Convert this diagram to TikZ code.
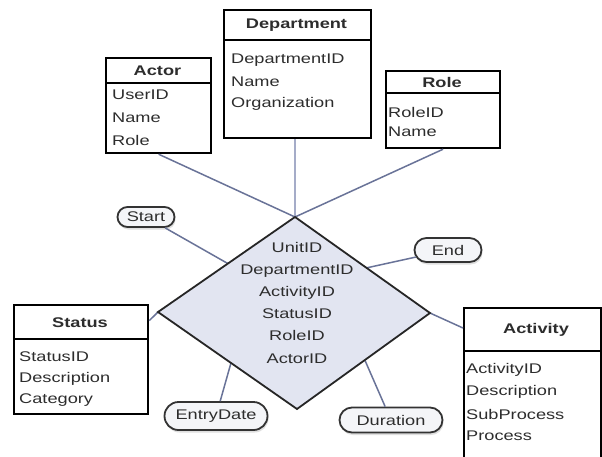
\documentclass[tikz,border=0pt]{standalone}
\usepackage{fontspec}
\newfontfamily\erf[FakeStretch=1.3]{Liberation Sans}
\usetikzlibrary{calc,shapes.misc,shadows}
\definecolor{connc}{RGB}{105,115,152}
\definecolor{deptc}{RGB}{165,172,200}
\definecolor{dfill}{RGB}{226,229,241}
\definecolor{txt}{RGB}{45,45,45}
\definecolor{lblfill}{RGB}{244,245,248}
\begin{document}
\begin{tikzpicture}[x=1pt,y=-1pt,
  every node/.style={font=\erf\fontsize{14}{16}\selectfont, text=txt, inner sep=0pt},
  entity/.style={draw=black, line width=2.2pt, fill=white, anchor=north west, inner sep=0pt},
  hdr/.style={font=\erf\bfseries\fontsize{14}{16}\selectfont},
  item/.style={anchor=west},
  hline/.style={draw=black, line width=2pt},
  connline/.style={draw=connc, line width=1.5pt},
  lbl/.style={rounded rectangle, draw=black!80, line width=1.8pt, fill=lblfill, inner sep=0pt,
    drop shadow={opacity=0.25, shadow xshift=1pt, shadow yshift=-2.5pt}},
  diam/.style={draw=black!85, line width=1.8pt, fill=dfill, line join=miter},
]
\useasboundingbox (0,0) rectangle (602,456);
\clip (0,0) rectangle (602,456);
\fill[white] (0,0) rectangle (602,456);

% diamond corners
\coordinate (dtop) at (295,217);
\coordinate (dright) at (430,313);
\coordinate (dbot) at (297,409);
\coordinate (dleft) at (158,312);

% entity boxes
\node[entity, minimum width=105pt, minimum height=95pt] (actor) at (105,57) {};
\node[entity, minimum width=147pt, minimum height=128pt] (dept) at (223,9) {};
\node[entity, minimum width=114pt, minimum height=77pt] (role) at (385,70) {};
\node[entity, minimum width=134pt, minimum height=109pt] (status) at (13,304) {};
\node[entity, minimum width=137pt, minimum height=170pt] (activity) at (463,307) {};

% labels
\node[lbl, minimum width=57pt, minimum height=20pt] (start) at (146,217) {Start};
\node[lbl, minimum width=67pt, minimum height=24pt] (end) at (448,250) {End};
\node[lbl, minimum width=103pt, minimum height=28pt] (entry) at (216,416) {EntryDate};
\node[lbl, minimum width=103pt, minimum height=25pt] (dur) at (391,420) {Duration};

% connectors
\draw[connline] (actor.south) -- (dtop);
\draw[draw=deptc, line width=1.5pt] (dept.south -| dtop) -- (dtop);
\draw[connline] (role.south) -- (dtop);
\draw[connline] ($(status.north east)!0.15!(status.south east)$) -- (dleft);
\draw[connline] (dright) -- ($(activity.north west)+(0,21)$);
\draw[connline] (start) -- ($(dleft)!0.51!(dtop)$);
\draw[connline] (end) -- ($(dtop)!0.53!(dright)$);
\draw[connline] (entry) -- ($(dleft)!0.525!(dbot)$);
\draw[connline] (dur) -- ($(dbot)!0.51!(dright)$);

% diamond
\draw[diam] (dtop) -- (dright) -- (dbot) -- (dleft) -- cycle;
\node[align=center, font=\erf\fontsize{14}{22.2}\selectfont] (dtext) at (297,302.5)
  {UnitID\\DepartmentID\\ActivityID\\StatusID\\RoleID\\ActorID};

% Actor
\draw[hline] (105,82.5) -- (210,82.5);
\node[hdr] (actorT) at (157.5,71) {Actor};
\node[item] (actor1) at (112,95) {UserID};
\node[item] (actor2) at (112,117.5) {Name};
\node[item] (actor3) at (112,140) {Role};

% Department
\draw[hline] (223,40) -- (370,40);
\node[hdr] (deptT) at (296.5,25) {Department};
\node[item] (dept1) at (231,60) {DepartmentID};
\node[item] (dept2) at (231,82) {Name};
\node[item] (dept3) at (231,104) {Organization};

% Role
\draw[hline] (385,93) -- (499,93);
\node[hdr] (roleT) at (442,82) {Role};
\node[item] (role1) at (388,112) {RoleID};
\node[item] (role2) at (388,132) {Name};

% Status
\draw[hline] (13,339) -- (147,339);
\node[hdr] (statusT) at (80,323) {Status};
\node[item] (status1) at (19,357) {StatusID};
\node[item] (status2) at (19,378.5) {Description};
\node[item] (status3) at (19,400) {Category};

% Activity
\draw[hline] (463,351) -- (600,351);
\node[hdr] (activityT) at (536,330) {Activity};
\node[item] (act1) at (466,370) {ActivityID};
\node[item] (act2) at (466,392) {Description};
\node[item] (act3) at (466,414) {SubProcess};
\node[item] (act4) at (466,436) {Process};
\end{tikzpicture}
\end{document}
